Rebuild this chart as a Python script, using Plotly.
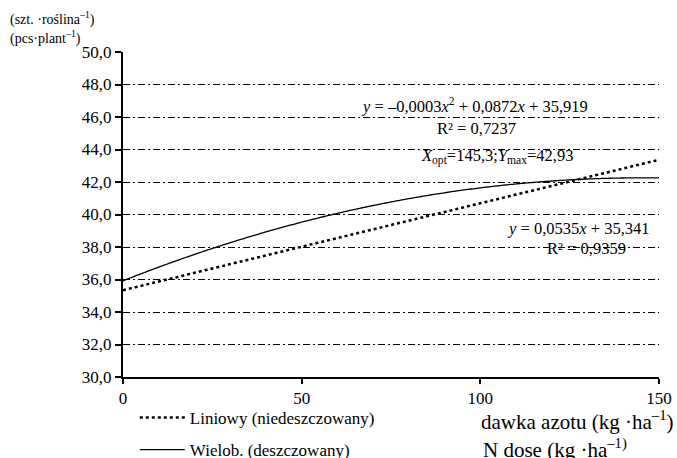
import numpy as np
import plotly.graph_objects as go

# Nitrogen dose range (kg/ha) and trend-line coefficients
dose_range = [0, 150]
lin_coef = [0.0535, 35.341]             # y = a*x + b   (niedeszczowany)
poly_coef = [-0.0003, 0.0872, 35.919]   # y = a*x^2 + b*x + c   (deszczowany)

y_ticks = [30, 32, 34, 36, 38, 40, 42, 44, 46, 48, 50]
x_ticks = [0, 50, 100, 150]

x = np.linspace(dose_range[0], dose_range[1], 301)
y_lin = np.polyval(lin_coef, x)
y_poly = np.polyval(poly_coef, x)

SERIF = "Times New Roman, Liberation Serif, serif"

fig = go.Figure()
fig.add_trace(go.Scatter(
    x=x, y=y_lin, mode="lines", name="Liniowy (niedeszczowany)",
    line=dict(color="black", width=2.5, dash="dot", simplify=False), legendgroup="a"))
fig.add_trace(go.Scatter(
    x=x, y=y_poly, mode="lines", name="Wielob. (deszczowany)",
    line=dict(color="black", width=1.3, simplify=False), legendgroup="b"))

ann = dict(xref="x", yref="y", showarrow=False,
           font=dict(family=SERIF, size=16.5, color="black"))
fig.add_annotation(x=98.5, y=46.68, text="<i>y</i> = –0,0003<i>x</i><sup>2</sup> + 0,0872<i>x</i> + 35,919", **ann)
fig.add_annotation(x=98.8, y=45.32, text="R² = 0,7237", **ann)
fig.add_annotation(x=104.7, y=43.54, text="<i>X</i><sub>opt</sub>=145,3;<i>Y</i><sub>max</sub>=42,93", **ann)
fig.add_annotation(x=148, y=39.11, xanchor="right", text="<i>y</i> = 0,0535<i>x</i> + 35,341", **ann)
fig.add_annotation(x=129.8, y=37.88, text="R² = 0,9359", **ann)

small = dict(family=SERIF, size=14, color="black")
big = dict(family=SERIF, size=21, color="black")
pap = dict(xref="paper", yref="paper", showarrow=False)
fig.add_annotation(x=-0.2146, y=1.1046, xanchor="left", yanchor="middle",
                   text="(szt. ·roślina<sup>–1</sup>)", font=small, **pap)
fig.add_annotation(x=-0.2146, y=1.046, xanchor="left", yanchor="middle",
                   text="(pcs·plant<sup>–1</sup>)", font=small, **pap)
fig.add_annotation(x=1.0317, y=-0.133, xanchor="right", yanchor="middle",
                   text="dawka azotu (kg ·ha<sup>–1</sup>)", font=big, **pap)
fig.add_annotation(x=0.668, y=-0.219, xanchor="left", yanchor="middle",
                   text="N dose (kg ·ha<sup>–1)</sup>", font=big, **pap)

fig.update_layout(
    width=677, height=458,
    margin=dict(l=123, r=18, t=52, b=81, autoexpand=False),
    paper_bgcolor="white", plot_bgcolor="white",
    separators=", ",
    font=dict(family=SERIF, size=17, color="black"),
    showlegend=True,
    legend=dict(x=0.022, y=-0.0708, xanchor="left", yanchor="top",
                font=dict(family=SERIF, size=17, color="black"),
                traceorder="grouped", tracegroupgap=7, itemwidth=45,
                bgcolor="rgba(0,0,0,0)"),
    xaxis=dict(range=dose_range, tickvals=x_ticks, showgrid=False,
               showline=True, linecolor="black", linewidth=2,
               ticks="outside", ticklen=5, tickcolor="black", tickwidth=1.5,
               zeroline=False, tickfont=dict(family=SERIF, size=17)),
    yaxis=dict(range=[30, 50], tickvals=y_ticks, tickformat=".1f",
               showgrid=True, gridcolor="black", gridwidth=1,
               griddash="7px,3px,2px,3px",
               showline=True, linecolor="black", linewidth=2,
               ticks="outside", ticklen=6, tickcolor="black", tickwidth=1.5,
               zeroline=False, tickfont=dict(family=SERIF, size=17)),
)

fig.write_html("out.html")
